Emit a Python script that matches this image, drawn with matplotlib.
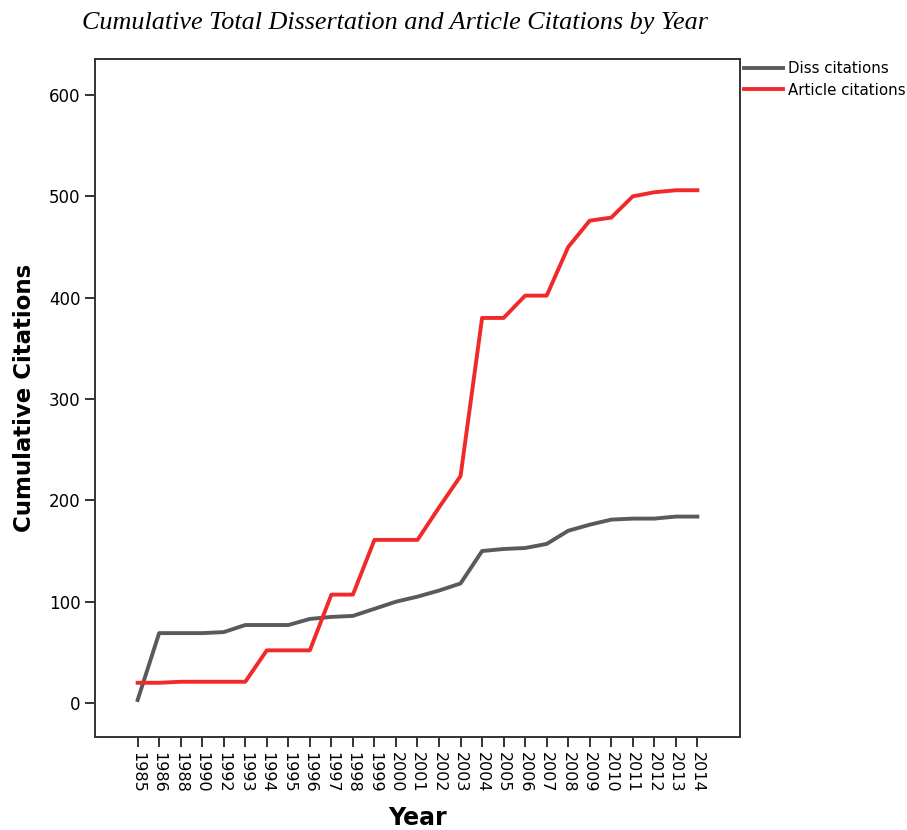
"""Cumulative dissertation vs article citations by year"""
import matplotlib
matplotlib.use("Agg")
import matplotlib.pyplot as plt

COLOR_DISS = "#5a5a5a"
COLOR_ART = "#f02a2a"
COLOR_SPINE = "#333333"

years = ["1985", "1986", "1988", "1990", "1992", "1993", "1994", "1995", "1996",
         "1997", "1998", "1999", "2000", "2001", "2002", "2003", "2004", "2005",
         "2006", "2007", "2008", "2009", "2010", "2011", "2012", "2013", "2014"]
diss = [3, 69, 69, 69, 70, 77, 77, 77, 83, 85, 86, 93, 100, 105, 111, 118,
        150, 152, 153, 157, 170, 176, 181, 182, 182, 184, 184]
article = [20, 20, 21, 21, 21, 21, 52, 52, 52, 107, 107, 161, 161, 161, 193, 224,
           380, 380, 402, 402, 450, 476, 479, 500, 504, 506, 506]

fig = plt.figure(figsize=(9.07, 8.30), dpi=100, facecolor="white")
ax = fig.add_axes([95 / 907, 1 - 737 / 830, 645 / 907, 678 / 830])

x = list(range(len(years)))
ax.plot(x, diss, color=COLOR_DISS, lw=2.8, label="Diss citations", solid_joinstyle="round")
ax.plot(x, article, color=COLOR_ART, lw=2.8, label="Article citations", solid_joinstyle="round")

ax.set_xlim(-1.98, len(years) - 1 + 1.98)
ax.set_ylim(-33.5, 635.5)
ax.set_xticks(x)
ax.set_xticklabels(years, rotation=-90, fontsize=11.5, family="DejaVu Sans")
ax.set_yticks([0, 100, 200, 300, 400, 500, 600])
ax.tick_params(axis="y", labelsize=12)
ax.tick_params(direction="out", length=7.5, width=1.4, color=COLOR_SPINE, pad=3)
for s in ax.spines.values():
    s.set_color(COLOR_SPINE)
    s.set_linewidth(1.4)

ax.set_xlabel("Year", fontsize=17, fontweight="bold", labelpad=10)
ax.set_ylabel("Cumulative Citations", fontsize=16.5, fontweight="bold", labelpad=9)

fig.text(395 / 907, 1 - 23 / 830, "Cumulative Total Dissertation and Article Citations by Year",
         ha="center", va="center", fontsize=18.8, style="italic", family="Liberation Serif")

fig.legend(loc="upper left", bbox_to_anchor=(741 / 907, 1 - 58 / 830), frameon=False,
           fontsize=10.8, handlelength=2.6, handletextpad=0.35, labelspacing=0.45,
           borderaxespad=0, borderpad=0.2)

fig.savefig("out.png", dpi=100)
plt.close(fig)
